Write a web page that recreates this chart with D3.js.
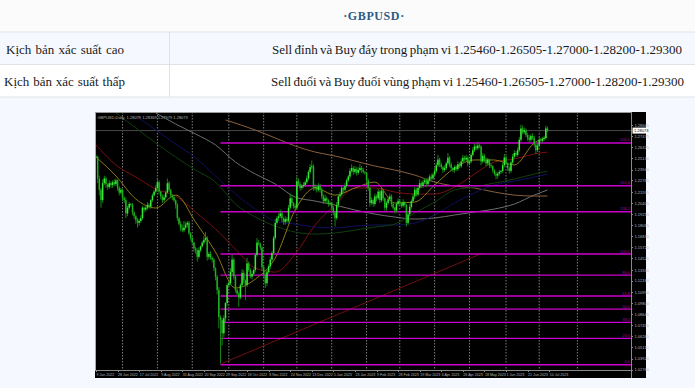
<!DOCTYPE html>
<html>
<head>
<meta charset="utf-8">
<script src="https://cdn.jsdelivr.net/npm/d3@7"></script>
<style>
    html, body { margin: 0; padding: 0; background: #f5f9ff; overflow: hidden; }
    svg { display: block; }
    .axis text { font-family: 'Liberation Sans', sans-serif; font-size: 4px; fill: #b4b4b4; }
    .axis.dates text { font-size: 3.6px; }
    .axis line, .axis path { stroke: #8a8a8a; shape-rendering: crispEdges; }
</style>
</head>
<body>
<div id="chart"></div>
<script>
// Text of the table above the chart
const tableTitle = '\u00B7GBPUSD\u00B7';
const tableRows = [
    ['K\u1ECBch b\u1EA3n x\u00E1c su\u1EA5t cao', 'Sell \u0111\u1EC9nh v\u00E0 Buy \u0111\u00E1y trong ph\u1EA1m vi 1.25460-1.26505-1.27000-1.28200-1.29300'],
    ['K\u1ECBch b\u1EA3n x\u00E1c su\u1EA5t th\u1EA5p', 'Sell \u0111u\u1ED5i v\u00E0 Buy \u0111u\u1ED5i v\u00F9ng ph\u1EA1m vi 1.25460-1.26505-1.27000-1.28200-1.29300']
];

// Daily closes
const closes = [
    1.253,1.230,1.218,1.207,1.225,1.230,1.224,1.221,1.225,1.223,1.226,1.224,1.228,1.220,1.215,1.218,1.209,1.207,1.193,1.199,
    1.203,1.202,1.194,1.190,1.186,1.183,1.185,1.188,1.199,1.197,1.199,1.202,1.200,1.207,1.212,1.216,1.220,1.226,1.216,1.211,
    1.207,1.210,1.215,1.225,1.218,1.212,1.210,1.207,1.202,1.188,1.182,1.177,1.175,1.178,1.181,1.183,1.172,1.167,1.162,1.156,
    1.154,1.147,1.154,1.158,1.162,1.165,1.167,1.147,1.150,1.146,1.144,1.135,1.126,1.112,1.083,1.080,1.066,1.082,1.098,1.117,
    1.119,1.131,1.144,1.126,1.112,1.108,1.104,1.117,1.130,1.122,1.117,1.140,1.133,1.126,1.129,1.133,1.149,1.162,1.161,1.157,
    1.136,1.128,1.119,1.131,1.137,1.144,1.151,1.167,1.183,1.188,1.190,1.193,1.188,1.184,1.187,1.185,1.199,1.209,1.204,1.201,
    1.199,1.227,1.224,1.220,1.222,1.223,1.226,1.230,1.237,1.242,1.243,1.220,1.221,1.218,1.222,1.218,1.211,1.206,1.209,1.207,
    1.203,1.204,1.199,1.194,1.188,1.202,1.211,1.213,1.220,1.218,1.222,1.228,1.232,1.238,1.241,1.237,1.240,1.236,1.239,1.241,
    1.239,1.237,1.236,1.228,1.220,1.204,1.207,1.203,1.211,1.209,1.216,1.207,1.217,1.209,1.199,1.204,1.208,1.211,1.203,1.199,
    1.196,1.203,1.206,1.204,1.201,1.205,1.202,1.183,1.192,1.200,1.206,1.211,1.218,1.213,1.220,1.225,1.222,1.226,1.228,1.224,
    1.228,1.232,1.230,1.234,1.238,1.244,1.250,1.245,1.242,1.239,1.241,1.246,1.252,1.245,1.241,1.239,1.242,1.240,1.245,1.243,
    1.248,1.252,1.250,1.252,1.246,1.248,1.255,1.260,1.264,1.262,1.265,1.264,1.248,1.254,1.250,1.246,1.250,1.244,1.243,1.239,
    1.235,1.233,1.235,1.237,1.238,1.244,1.252,1.246,1.241,1.238,1.247,1.253,1.257,1.255,1.260,1.271,1.283,1.279,1.281,1.276,
    1.273,1.271,1.275,1.273,1.266,1.260,1.265,1.271,1.270,1.272,1.273,1.283,1.281
];

// Wick lengths above and below each candle body, in units of 0.001
const wickUp = [
    2,1,3,2,4,3,2,1,3,2,2,3,2,1,2,2,1,2,3,2,
    2,1,2,1,1,2,2,3,2,1,2,3,2,1,2,2,3,4,2,1,
    2,3,2,5,2,1,1,2,1,2,1,3,4,7,3,2,2,1,2,1,
    2,2,3,1,2,4,6,2,2,3,1,2,1,2,3,2,2,3,1,2,
    2,4,5,2,2,1,2,2,4,3,1,6,2,2,3,2,2,5,3,1,
    1,2,2,3,2,3,2,2,4,2,3,4,2,1,3,2,3,5,2,1,
    2,5,3,2,2,3,2,3,2,3,6,2,3,2,3,2,2,2,4,2,
    1,2,1,2,1,3,2,3,2,1,3,2,2,3,4,2,3,2,3,4,
    2,2,1,1,2,1,3,2,3,2,3,2,4,2,1,2,3,3,2,1,
    1,2,3,2,1,3,1,1,2,3,2,3,3,2,3,4,2,3,2,2,
    3,2,3,2,3,3,5,2,2,1,3,2,5,2,2,1,2,2,3,2,
    3,3,2,3,2,2,2,3,3,2,4,2,1,3,2,2,2,1,2,1,
    1,2,2,2,1,3,4,2,1,2,2,3,3,2,3,3,4,3,3,2,
    2,3,2,3,2,1,2,3,2,2,2,3,2
];
const wickDown = [
    1,5,6,8,3,2,4,3,2,3,3,2,2,3,3,2,3,3,5,3,
    2,2,3,3,4,5,3,2,2,3,2,2,2,2,2,1,2,2,3,3,
    3,2,2,1,2,3,3,2,4,3,2,3,2,2,2,3,2,3,2,4,
    4,5,2,2,1,2,2,4,3,2,3,3,4,5,12,46,13,4,5,3,
    2,2,4,3,3,2,10,2,2,3,16,2,2,2,3,2,2,2,2,3,
    4,3,5,3,2,3,2,2,2,2,3,2,4,3,3,2,2,2,3,3,
    3,2,2,3,2,2,2,2,2,2,2,3,3,3,2,3,3,3,2,3,
    3,2,3,3,9,2,3,2,2,3,2,2,2,2,2,3,2,3,2,2,
    3,2,2,3,3,4,2,3,2,3,2,3,2,3,3,3,2,2,3,2,
    3,2,2,3,2,2,2,4,2,2,2,2,3,2,2,2,2,2,2,3,
    2,2,2,2,2,2,2,3,2,3,2,2,2,3,3,2,3,2,2,2,
    2,2,2,2,3,2,2,2,2,2,2,2,4,2,3,3,2,3,2,3,
    2,4,3,2,2,2,2,2,3,3,2,2,2,2,2,2,2,2,2,2,
    3,3,2,2,3,4,2,2,2,2,2,2,2
];

// Moving averages, estimated at the bars listed in maBars
const maBars = [0,12,24,36,48,60,72,84,96,108,120,132,144,156,168,180,192,204,216,228,240,252,264,272];
const maYellow = [1.2527,1.2326,1.2082,1.1987,1.2124,1.1838,1.1520,1.1139,1.1234,1.1457,1.1966,1.2199,1.2124,1.2199,1.2262,1.2040,1.2050,1.2231,1.2411,1.2496,1.2496,1.2443,1.2676,1.2739];
const maRed = [1.2655,1.2443,1.2315,1.2188,1.2114,1.1944,1.1764,1.1552,1.1351,1.1308,1.1499,1.1807,1.2018,1.2199,1.2199,1.2156,1.2135,1.2135,1.2209,1.2347,1.2474,1.2506,1.2559,1.2580];
const maGreen = [1.2994,1.2835,1.2676,1.2527,1.2389,1.2262,1.2029,1.1891,1.1796,1.1732,1.1711,1.1722,1.1753,1.1785,1.1817,1.1934,1.2050,1.2178,1.2209,1.2252,1.2294,1.2347,1.2379];
const maBlue = [1.2962,1.2813,1.2665,1.2517,1.2326,1.2135,1.1976,1.1849,1.1817,1.1785,1.1775,1.1796,1.1807,1.1807,1.1828,1.1913,1.2040,1.2146,1.2231,1.2273,1.2315,1.2347];
const maGray = [1.2994,1.2877,1.2771,1.2655,1.2474,1.2347,1.2241,1.2103,1.2061,1.2018,1.1966,1.1923,1.1891,1.1870,1.1881,1.1913,1.1944,1.1976,1.2029,1.2124,1.2178];
const maBrown = [1.2920,1.2813,1.2729,1.2644,1.2580,1.2538,1.2485,1.2432,1.2389,1.2336,1.2262,1.2220,1.2199,1.2156,1.2124,1.2114,1.2114];

// Trend line anchors
const trendBars = [75, 233];
const trendPrices = [1.0333, 1.1510];

// Fibonacci levels
const fibLabels = ['200.0','161.8','138.2','100.0','80.0','61.8','50.0','38.2','23.6','0.0'];
const fibPrices = [1.2676,1.2223,1.1947,1.1499,1.1276,1.1054,1.0916,1.0775,1.0606,1.0326];

// Axes
const priceTicks = [1.28665,1.27475,1.26325,1.25130,1.23940,1.22785,1.21595,1.20405,1.19255,1.18065,1.16870,1.15720,1.14525,1.13330,1.12180,1.10990,1.09800,1.08645,1.07455,1.06265,1.05110,1.03920,1.02760];
const dateBars = [0,13,26,39,52,65,78,91,104,117,130,143,156,169,182,195,208,221,234,247,260,273];
const dateLabels = ['9 Jun 2022','28 Jun 2022','17 Jul 2022','9 Aug 2022','31 Aug 2022','20 Sep 2022','29 Sep 2022','18 Oct 2022','8 Nov 2022','24 Nov 2022','13 Dec 2022','5 Jan 2023','23 Jan 2023','9 Feb 2023','28 Feb 2023','19 Mar 2023','6 Apr 2023','26 Apr 2023','18 May 2023','1 Jun 2023','21 Jun 2023','10 Jul 2023'];
const gridBars = [16,37,58,80,101,121,142,163,183,204,225,247,267,290];
const lastPrice = 1.28073;
const chartCaption = 'GBPUSD,Daily  1.28079 1.28369 1.27979 1.28073';

const width = 695, height = 388;

const svg = d3.select('#chart')
    .append('svg')
    .attr('width', width)
    .attr('height', height);

// ---- table ----
svg.append('rect').attr('width', width).attr('height', 32).attr('fill', '#fbfbfb');
svg.append('rect').attr('y', 65).attr('width', width).attr('height', 32).attr('fill', '#ffffff');

[32, 64.5, 97].forEach(y => {
    svg.append('line')
        .attr('x1', 0).attr('x2', width)
        .attr('y1', y).attr('y2', y)
        .attr('stroke', '#dfe3e8');
});
svg.append('line')
    .attr('x1', 169.5).attr('x2', 169.5)
    .attr('y1', 32).attr('y2', 97)
    .attr('stroke', '#dfe3e8');

svg.append('text')
    .attr('x', 374).attr('y', 20)
    .attr('text-anchor', 'middle')
    .attr('font-family', "'Liberation Serif', serif")
    .attr('font-weight', 'bold')
    .attr('font-size', 12)
    .attr('letter-spacing', 0.6)
    .attr('fill', '#2b5b85')
    .text(tableTitle);

const rowLayout = [
    { y: 54, leftX: 6, leftW: 118, rightX: 272, rightW: 410 },
    { y: 86, leftX: 4, leftW: 121, rightX: 271, rightW: 413 }
];
// the original text has wide gaps between words, so stretch the word spacing to fit
function fitText(x, y, w, content) {
    const t = svg.append('text')
        .attr('x', x).attr('y', y)
        .attr('font-family', "'Liberation Serif', serif")
        .attr('font-size', 13)
        .attr('fill', '#1a1a1a')
        .text(content);
    const gaps = content.split(' ').length - 1;
    t.attr('word-spacing', (w - t.node().getComputedTextLength()) / gaps);
}
tableRows.forEach((row, i) => {
    const l = rowLayout[i];
    fitText(l.leftX, l.y, l.leftW, row[0]);
    fitText(l.rightX, l.y, l.rightW, row[1]);
});

// ---- chart ----
const frame = { left: 95, right: 646, top: 112, bottom: 378, plotRight: 631, axisY: 370 };

const scaleX = d3.scaleLinear().domain([0, 322.3]).range([96, frame.plotRight]);
const scaleY = d3.scaleLinear().domain([1.28665, 1.02760]).range([125, 369.5]);

svg.append('rect')
    .attr('x', frame.left).attr('y', frame.top)
    .attr('width', frame.right - frame.left)
    .attr('height', frame.bottom - frame.top)
    .attr('fill', '#000000');

const defs = svg.append('defs');
defs.append('filter')
    .attr('id', 'soft')
    .attr('x', '-2%').attr('y', '-2%')
    .attr('width', '104%').attr('height', '104%')
    .append('feGaussianBlur')
    .attr('stdDeviation', 0.35);
defs.append('clipPath')
    .attr('id', 'plot-clip')
    .append('rect')
    .attr('x', 96).attr('y', 113)
    .attr('width', frame.plotRight - 96)
    .attr('height', frame.axisY - 113);

const plot = svg.append('g')
    .attr('clip-path', 'url(#plot-clip)')
    .append('g')
    .attr('filter', 'url(#soft)');

// vertical dotted grid
plot.selectAll('line.grid')
    .data(gridBars)
    .enter().append('line')
    .classed('grid', true)
    .attr('x1', d => scaleX(d)).attr('x2', d => scaleX(d))
    .attr('y1', frame.top).attr('y2', frame.axisY)
    .attr('stroke', '#8c8c8c')
    .attr('stroke-width', 0.9)
    .attr('stroke-dasharray', '1.5,1.5');

// last price line
plot.append('line')
    .attr('x1', 96).attr('x2', frame.plotRight)
    .attr('y1', scaleY(lastPrice)).attr('y2', scaleY(lastPrice))
    .attr('stroke', '#4a4a4a');

// moving averages and the trend line
const line = d3.line()
    .x(d => scaleX(d[0]))
    .y(d => scaleY(d[1]))
    .curve(d3.curveMonotoneX);

const brownBars = [78].concat(maBars.slice(-(maBrown.length - 1)));
const maSeries = [
    { bars: maBars.slice(-maGray.length), values: maGray, color: '#6e6e6e' },
    { bars: brownBars, values: maBrown, color: '#8a5f3c' },
    { bars: maBars.slice(-maBlue.length), values: maBlue, color: '#10105e' },
    { bars: maBars.slice(-maGreen.length), values: maGreen, color: '#0f3f0f' },
    { bars: maBars, values: maRed, color: '#7c1010' },
    { bars: maBars, values: maYellow, color: '#8c7a14' },
    { bars: trendBars, values: trendPrices, color: '#701010' }
];
plot.selectAll('path.ma')
    .data(maSeries)
    .enter().append('path')
    .classed('ma', true)
    .attr('fill', 'none')
    .attr('stroke', d => d.color)
    .attr('stroke-width', 1)
    .attr('d', d => line(d.bars.map((b, i) => [b, d.values[i]])));

// fib levels
plot.selectAll('line.fib')
    .data(fibPrices)
    .enter().append('line')
    .classed('fib', true)
    .attr('x1', scaleX(75)).attr('x2', frame.plotRight)
    .attr('y1', d => scaleY(d)).attr('y2', d => scaleY(d))
    .attr('stroke', '#cc00cc')
    .attr('stroke-width', 1.4);

// candles
const candles = closes.map((c, i) => {
    const open = i === 0 ? c : closes[i - 1];
    return {
        bar: i,
        open: open,
        close: c,
        high: Math.max(open, c) + wickUp[i] / 1000,
        low: Math.min(open, c) - wickDown[i] / 1000
    };
});

plot.selectAll('line.wick')
    .data(candles)
    .enter().append('line')
    .classed('wick', true)
    .attr('x1', d => scaleX(d.bar)).attr('x2', d => scaleX(d.bar))
    .attr('y1', d => scaleY(d.high)).attr('y2', d => scaleY(d.low))
    .attr('stroke', '#159415')
    .attr('stroke-width', 0.9);

plot.selectAll('rect.body')
    .data(candles)
    .enter().append('rect')
    .classed('body', true)
    .attr('x', d => scaleX(d.bar) - 0.75)
    .attr('width', 1.5)
    .attr('y', d => scaleY(Math.max(d.open, d.close)))
    .attr('height', d => Math.max(0.6, scaleY(Math.min(d.open, d.close)) - scaleY(Math.max(d.open, d.close))))
    .attr('fill', d => d.close >= d.open ? '#38e838' : '#1fb01f');

// frame lines
svg.append('line')
    .attr('x1', 95.5).attr('x2', 95.5)
    .attr('y1', frame.top).attr('y2', frame.axisY)
    .attr('stroke', '#a8a8a8');
svg.append('line')
    .attr('x1', frame.left).attr('x2', frame.plotRight)
    .attr('y1', frame.top + 0.5).attr('y2', frame.top + 0.5)
    .attr('stroke', '#9a9a9a');

// axes
const axisRight = d3.axisRight(scaleY)
    .tickValues(priceTicks)
    .tickFormat(d3.format('.5f'))
    .tickSize(2)
    .tickPadding(1.5);
svg.append('g')
    .attr('class', 'axis')
    .attr('transform', `translate(${frame.plotRight},0)`)
    .call(axisRight)
    .select('.domain')
    .attr('d', `M0.5,${frame.top}V${frame.bottom}`);

const axisBottom = d3.axisBottom(scaleX)
    .tickValues(dateBars)
    .tickFormat((d, i) => dateLabels[i])
    .tickSize(2)
    .tickPadding(1);
const axisX = svg.append('g')
    .attr('class', 'axis dates')
    .attr('transform', `translate(0,${frame.axisY})`)
    .call(axisBottom);
axisX.select('.domain').attr('d', `M${frame.left},0.5H${frame.plotRight}`);
axisX.selectAll('text').style('text-anchor', 'start');

// caption
svg.append('text')
    .attr('x', 97.5).attr('y', 118.5)
    .attr('font-family', "'Liberation Sans', sans-serif")
    .attr('font-size', 4)
    .attr('fill', '#b4b4b4')
    .attr('xml:space', 'preserve')
    .text(chartCaption);

// fib labels sit right above their lines, at the axis
svg.selectAll('text.fib-label')
    .data(fibPrices)
    .enter().append('text')
    .classed('fib-label', true)
    .attr('x', frame.plotRight - 1)
    .attr('y', d => scaleY(d) - 1.5)
    .attr('text-anchor', 'end')
    .attr('font-family', "'Liberation Sans', sans-serif")
    .attr('font-size', 4)
    .attr('fill', '#a000a0')
    .text((d, i) => fibLabels[i]);

// last price box
svg.append('rect')
    .attr('x', frame.plotRight + 1.5).attr('y', scaleY(lastPrice) - 3)
    .attr('width', 14).attr('height', 6)
    .attr('fill', '#ffffff');
svg.append('text')
    .attr('x', frame.plotRight + 3).attr('y', scaleY(lastPrice) + 1.5)
    .attr('font-family', "'Liberation Sans', sans-serif")
    .attr('font-size', 4)
    .attr('fill', '#000000')
    .text(d3.format('.5f')(lastPrice));
</script>
</body>
</html>
